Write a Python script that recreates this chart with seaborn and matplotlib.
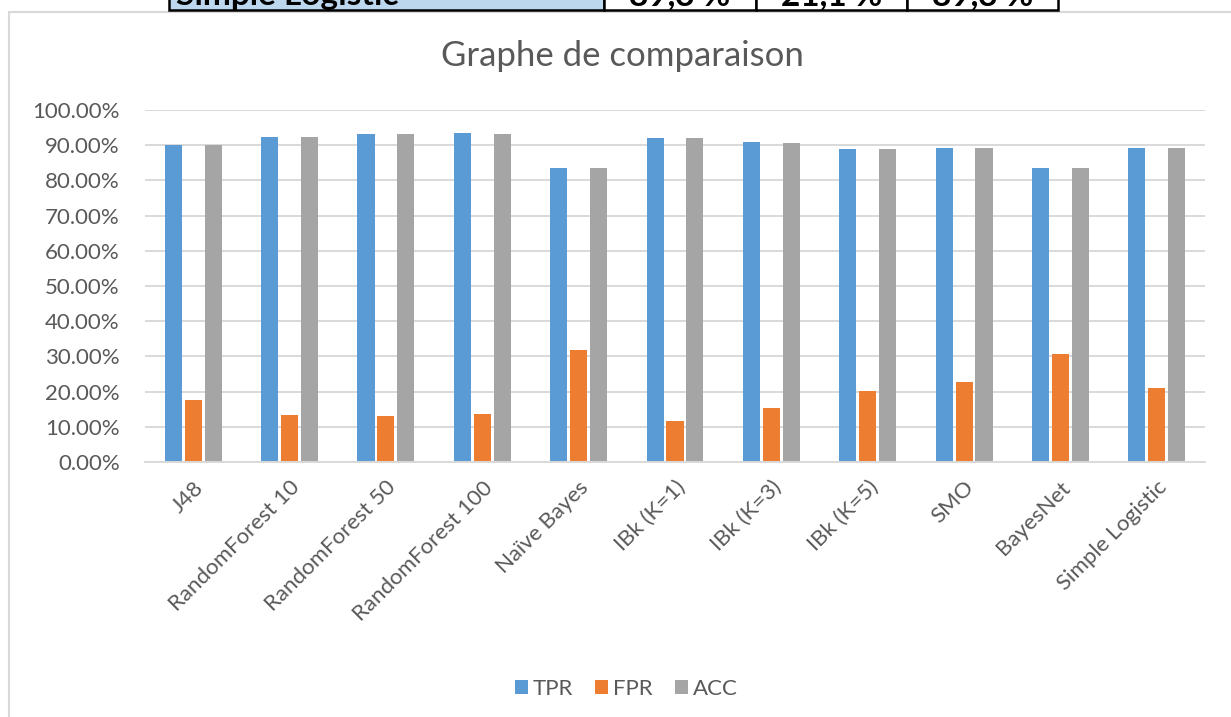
import matplotlib
matplotlib.use("Agg")
import matplotlib.pyplot as plt
from matplotlib.patches import Rectangle, Patch
from matplotlib.ticker import PercentFormatter, MultipleLocator
import pandas as pd
import seaborn as sns

# Classifiers and their scores (in %)
classifiers = ["J48", "RandomForest 10", "RandomForest 50", "RandomForest 100",
               "Naïve Bayes", "IBk (K=1)", "IBk (K=3)", "IBk (K=5)", "SMO",
               "BayesNet", "Simple Logistic"]
tpr = [90.0, 92.4, 93.2, 93.4, 83.4, 92.1, 90.8, 88.9, 89.1, 83.5, 89.3]
fpr = [17.6, 13.3, 13.1, 13.6, 31.7, 11.7, 15.3, 20.1, 22.7, 30.7, 21.1]
acc = [90.0, 92.4, 93.2, 93.2, 83.4, 92.0, 90.7, 88.9, 89.1, 83.4, 89.3]
measures = ["TPR", "FPR", "ACC"]
colors = ["#5B9BD5", "#ED7D31", "#A5A5A5"]

# Last row of the summary table shown above the chart
table_row = ["Simple Logistic", "89,3 %", "21,1 %", "89,3 %"]

rows = []
for name, series in zip(measures, [tpr, fpr, acc]):
    for clf, v in zip(classifiers, series):
        rows.append({"Classifieur": clf, "Mesure": name, "Valeur": v / 100.0})
df = pd.DataFrame(rows)

sns.set_theme(style="white")
plt.rcParams["font.family"] = ["Lato", "DejaVu Sans"]
text_color = "#595959"

W, H = 1231, 717
fig = plt.figure(figsize=(W / 100, H / 100), dpi=100)

def fx(px):
    return px / W

def fy(py):
    return 1 - py / H

ax = fig.add_axes([fx(145), fy(462), fx(1205) - fx(145), fy(110) - fy(462)])

sns.barplot(data=df, x="Classifieur", y="Valeur", hue="Mesure",
            hue_order=measures, palette=colors, order=classifiers,
            width=0.62, gap=0.14, saturation=1, errorbar=None,
            edgecolor="none", linewidth=0, ax=ax, legend=False)

ax.set_ylim(0, 1.0)
ax.set_xlim(-0.5, len(classifiers) - 0.5)
ax.yaxis.set_major_locator(MultipleLocator(0.1))
ax.yaxis.set_major_formatter(PercentFormatter(xmax=1, decimals=2))
ax.grid(axis="y", color="#D9D9D9", linewidth=1.4)
ax.set_axisbelow(True)
for side in ["top", "right", "left"]:
    ax.spines[side].set_visible(False)
ax.spines["bottom"].set_color("#D9D9D9")
ax.spines["bottom"].set_linewidth(1.4)
ax.set_xlabel("")
ax.set_ylabel("")
ax.tick_params(axis="y", length=0, pad=22, labelsize=16, labelcolor=text_color)
ax.tick_params(axis="x", length=0, pad=11, labelsize=16, labelcolor=text_color)
for lab in ax.get_yticklabels():
    lab.set_x(-0.016)
ax.tick_params(axis="y", pad=6)
for lab in ax.get_xticklabels():
    lab.set_rotation(45)
    lab.set_ha("right")
    lab.set_va("top")
    lab.set_rotation_mode("anchor")

# Title
fig.text(fx(622), fy(56), "Graphe de comparaison", ha="center", va="center",
         fontsize=25, color=text_color)

# Legend
handles = [Patch(facecolor=c, edgecolor="none") for c in colors]
fig.legend(handles, measures, loc="center", bbox_to_anchor=(fx(626), fy(689)),
           ncol=3, frameon=False, fontsize=16, labelcolor=text_color,
           handlelength=0.6, handleheight=0.6, handletextpad=0.2,
           columnspacing=1.0)

# Chart frame
fig.patches.append(Rectangle((fx(9), fy(740)), fx(1260) - fx(9), fy(12) - fy(740),
                             transform=fig.transFigure, facecolor="none",
                             edgecolor="#D9D9D9", linewidth=1.5, zorder=0))

# Table row running off the top edge
cells = [(169, 604), (604, 756), (756, 907), (907, 1058)]
for i, (x0, x1) in enumerate(cells):
    fc = "#BDD7EE" if i == 0 else "white"
    fig.patches.append(Rectangle((fx(x0), fy(10)), fx(x1) - fx(x0), fy(-20) - fy(10),
                                 transform=fig.transFigure, facecolor=fc,
                                 edgecolor="black", linewidth=1.8, zorder=2))
fig.text(fx(176), fy(5), table_row[0], ha="left", va="baseline",
         fontsize=24, fontweight="bold", color="black", zorder=3)
for (x0, x1), txt in zip(cells[1:], table_row[1:]):
    fig.text(fx((x0 + x1) / 2), fy(5), txt, ha="center", va="baseline",
             fontsize=24, fontweight="bold", color="black", zorder=3)

fig.savefig("out.png", dpi=100)
